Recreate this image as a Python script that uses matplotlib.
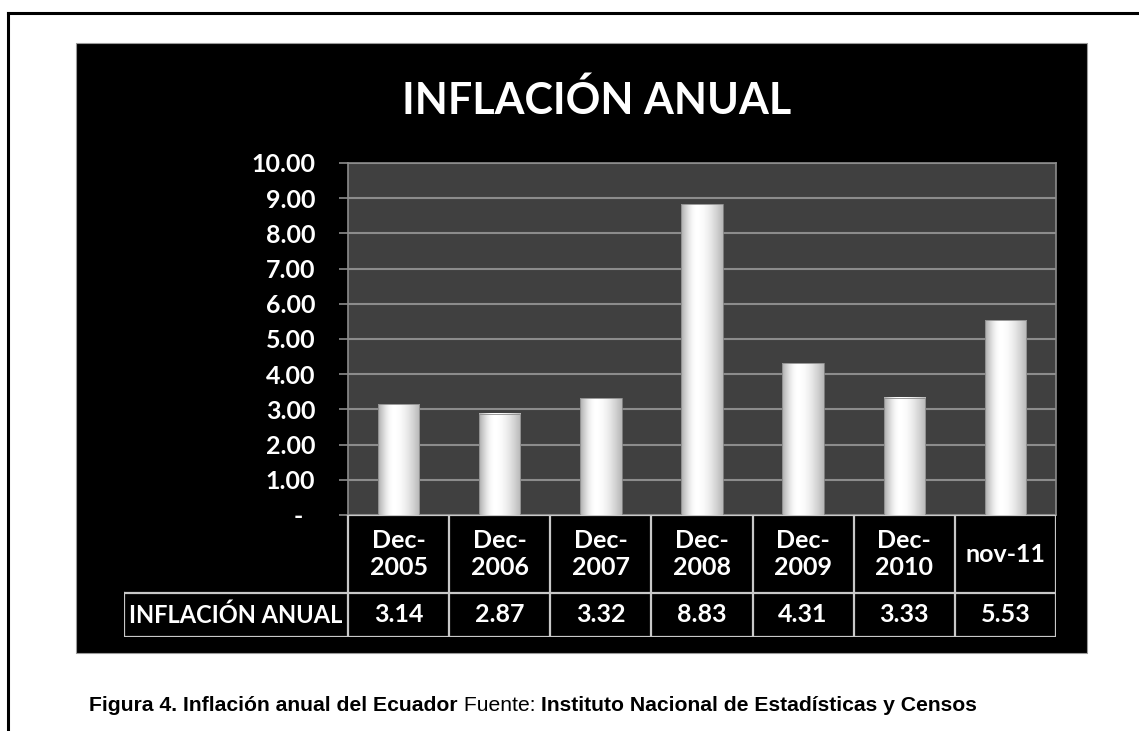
import numpy as np
import matplotlib
matplotlib.use("Agg")
from matplotlib import pyplot as plt
from matplotlib.patches import Rectangle
from matplotlib.lines import Line2D

# data
categories = ["Dec-\n2005", "Dec-\n2006", "Dec-\n2007", "Dec-\n2008", "Dec-\n2009", "Dec-\n2010", "nov-11"]
inflation = [3.14, 2.87, 3.32, 8.83, 4.31, 3.33, 5.53]
yticks = [0, 1, 2, 3, 4, 5, 6, 7, 8, 9, 10]
row_label = "INFLACIÓN ANUAL"
title = "INFLACIÓN ANUAL"

W, H = 1139, 731
fig = plt.figure(figsize=(W / 100, H / 100), dpi=100)
fig.patch.set_facecolor("white")

def fx(px):
	return px / W

def fy(py):
	return 1 - py / H

# page frame (top and left rule)
fig.add_artist(Line2D([fx(8), 1], [fy(13), fy(13)], color="black", lw=2.2))
fig.add_artist(Line2D([fx(8), fx(8)], [fy(13), 0], color="black", lw=2.2))

# black chart box
fig.add_artist(Rectangle((fx(76), fy(653)), fx(1087) - fx(76), fy(43) - fy(653),
	facecolor="black", edgecolor="#9a9a9a", lw=0.8, zorder=0))

fnt = "Lato"

# plot area
pl, pt, pr, pb = 348, 163, 1056, 515
ax = fig.add_axes([fx(pl), fy(pb), fx(pr) - fx(pl), fy(pt) - fy(pb)])
ax.set_facecolor("#404040")
for s in ax.spines.values():
	s.set_color("#8c8c8c")
	s.set_linewidth(1.2)

x = np.arange(len(inflation))
bw = 0.41

# horizontal gradient for the glassy bars
t = np.linspace(0, 1, 60)
prof = np.where(t < 0.38, 0.68 + 0.32 * np.sin(t / 0.38 * np.pi / 2),
	0.72 + 0.28 * np.cos((t - 0.38) / 0.62 * np.pi / 2))
grad = np.tile(prof, (40, 1))
for i, v in zip(x, inflation):
	ax.imshow(grad, cmap="gray", vmin=0, vmax=1, aspect="auto",
		extent=(i - bw / 2, i + bw / 2, 0, v), zorder=3, interpolation="bilinear")
	ax.add_patch(Rectangle((i - bw / 2, 0), bw, v, fill=False, edgecolor="#8a8a8a", lw=0.6, zorder=4))

ax.set_xlim(-0.5, len(inflation) - 0.5)
ax.set_ylim(0, 10)
ax.set_yticks(yticks)
ax.set_yticklabels(["-  " if v == 0 else f"{v:.2f}" for v in yticks],
	color="white", fontsize=18, fontweight="bold", family=fnt)
ax.tick_params(axis="y", length=6.5, color="#8c8c8c", width=1.2, pad=17)
ax.set_xticks([])
ax.yaxis.grid(True, color="#8c8c8c", lw=1.5)
ax.set_axisbelow(True)

# data table under the plot
tl, tb = 124, 637
colw = (pr - pl) / len(inflation)
tax = fig.add_axes([fx(tl), fy(tb), fx(pr) - fx(tl), fy(pb) - fy(tb)])
tax.set_xlim(-0.5 - (pl - tl) / colw, len(inflation) - 0.5)
tax.set_ylim(0, 1)
tax.axis("off")
mid = (tb - 593) / (tb - pb)
lc = "#c8c8c8"
xl = -0.5 - (pl - tl) / colw
tax.plot([-0.5, len(inflation) - 0.5], [1, 1], color=lc, lw=1.6)
tax.plot([xl, len(inflation) - 0.5], [mid, mid], color=lc, lw=1.6)
tax.plot([xl, len(inflation) - 0.5], [0, 0], color=lc, lw=1.6)
tax.plot([xl, xl], [0, mid], color=lc, lw=1.6)
for b in np.arange(len(inflation) + 1) - 0.5:
	tax.plot([b, b], [0, 1], color=lc, lw=1.6)
for i, (c, v) in enumerate(zip(categories, inflation)):
	tax.text(i, (1 + mid) / 2, c, ha="center", va="center", color="white",
		fontsize=18, fontweight="bold", family=fnt, linespacing=1.2)
	tax.text(i, mid / 2, f"{v:.2f}", ha="center", va="center", color="white",
		fontsize=18, fontweight="bold", family=fnt)
tax.text(xl + 0.05, mid / 2, row_label, ha="left", va="center", color="white",
	fontsize=17, fontweight="bold", family=fnt)

# title
fig.text(fx(597), fy(100), title, ha="center", va="center", color="white",
	fontsize=31, fontweight="bold", family=fnt)

# caption, built from pieces with different weights
pieces = [("Figura 4. Inflación anual del Ecuador", "bold"), (" Fuente: ", "normal"),
	("Instituto Nacional de Estadísticas y Censos", "bold")]
fig.canvas.draw()
r = fig.canvas.get_renderer()
cx = fx(89)
for txt, wt in pieces:
	tt = fig.text(cx, fy(711), txt, ha="left", va="baseline", color="black",
		fontsize=15.2, fontweight=wt, family="Liberation Sans")
	bb = tt.get_window_extent(renderer=r)
	cx += bb.width / W

fig.savefig("out.png", dpi=100, facecolor=fig.get_facecolor())
